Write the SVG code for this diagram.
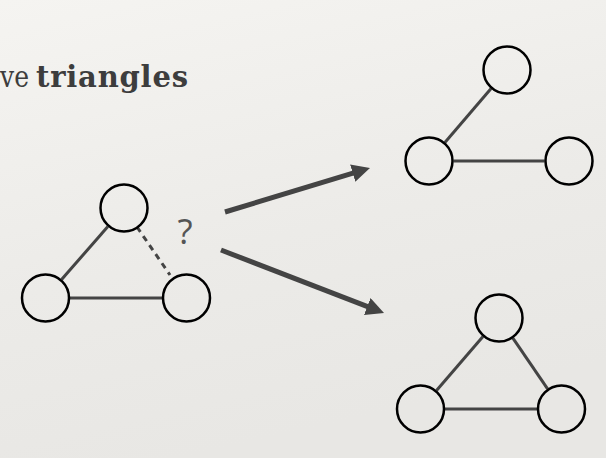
<svg xmlns="http://www.w3.org/2000/svg" width="606" height="458" viewBox="0 0 606 458">
<defs>
<linearGradient id="bg" x1="0" y1="0" x2="0.3" y2="1">
<stop offset="0" stop-color="#f5f4f1"/>
<stop offset="0.6" stop-color="#ecebe8"/>
<stop offset="1" stop-color="#e8e7e4"/>
</linearGradient>
<marker id="ah" markerUnits="userSpaceOnUse" viewBox="0 0 18 18" refX="8" refY="9" markerWidth="18" markerHeight="18" orient="auto">
<path d="M0,0 L18,9 L0,18 Z" fill="#444"/>
</marker>
</defs>
<style>
.node{fill:none;stroke:#000;stroke-width:2.5}
.edge{stroke:#444;stroke-width:3;fill:none}
.dash{stroke-dasharray:6 5}
.arrow{stroke:#444;stroke-width:5;fill:none;marker-end:url(#ah)}
.title{font-family:"DejaVu Serif","Liberation Serif",serif;font-size:29px;fill:#3d3d3d}
.q{font-family:"Open Sans","Liberation Sans",sans-serif;font-size:35px;fill:#555}
</style>
<rect width="606" height="458" fill="url(#bg)"/>
<text class="title" y="87"><tspan x="0" textLength="29" lengthAdjust="spacingAndGlyphs">ve</tspan> <tspan x="36" font-weight="bold" textLength="152" lengthAdjust="spacing">triangles</tspan></text>
<g id="connectors">
<line class="edge" x1="107.9" y1="226.5" x2="61.6" y2="279.5"/>
<line class="edge dash" x1="137" y1="227" x2="170" y2="275"/>
<line class="edge" x1="70" y1="298" x2="162" y2="298"/>
<line class="arrow" x1="225" y1="212" x2="360.4" y2="170.9"/>
<line class="arrow" x1="221" y1="250" x2="374.7" y2="309.4"/>
<line class="edge" x1="491.1" y1="88.6" x2="444.9" y2="142.4"/>
<line class="edge" x1="453.5" y1="161" x2="544.5" y2="161"/>
<line class="edge" x1="483" y1="336.5" x2="436.5" y2="390.5"/>
<line class="edge" x1="512.9" y1="338.2" x2="547.6" y2="388.8"/>
<line class="edge" x1="445" y1="409" x2="537" y2="409"/>
</g>
<text class="q" x="185" y="244" text-anchor="middle">?</text>
<g id="n1"><circle class="node" cx="124" cy="208" r="23.5"/></g>
<g id="n2"><circle class="node" cx="45.5" cy="298" r="23.5"/></g>
<g id="n3"><circle class="node" cx="186.5" cy="298" r="23.5"/></g>
<g id="n4"><circle class="node" cx="507" cy="70" r="23.5"/></g>
<g id="n5"><circle class="node" cx="429" cy="161" r="23.5"/></g>
<g id="n6"><circle class="node" cx="569" cy="161" r="23.5"/></g>
<g id="n7"><circle class="node" cx="499" cy="318" r="23.5"/></g>
<g id="n8"><circle class="node" cx="420.5" cy="409" r="23.5"/></g>
<g id="n9"><circle class="node" cx="561.5" cy="409" r="23.5"/></g>
</svg>
